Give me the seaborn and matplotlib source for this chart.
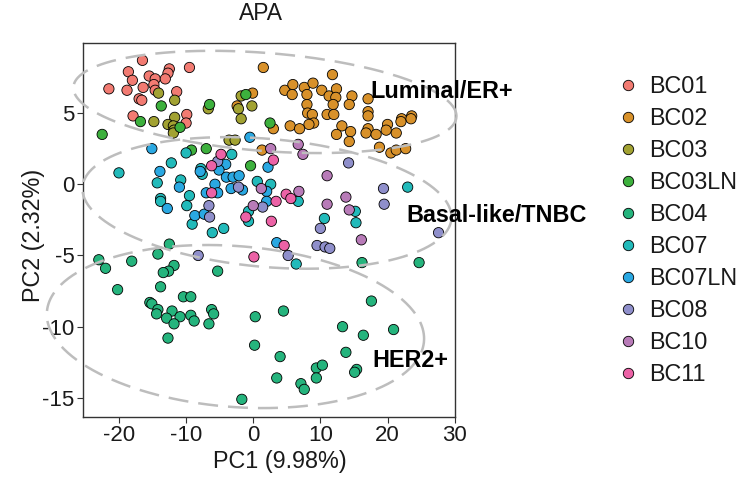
import numpy as np
import pandas as pd
import matplotlib
matplotlib.use("Agg")
import matplotlib.pyplot as plt
from matplotlib.lines import Line2D
import seaborn as sns

# ---------------- data ----------------
groups = ["BC01", "BC02", "BC03", "BC03LN", "BC04", "BC07", "BC07LN", "BC08", "BC10", "BC11"]
colors = ["#F27B72", "#D8912A", "#A2A232", "#3DB03D", "#25B47D",
          "#22BABA", "#2AA8E2", "#8F8FCB", "#B87BB8", "#EC62A6"]

bc01_x = [-16.5, -18.6, -18.0, -21.5, -18.8, -16.4, -15.5, -14.6, -14.8, -14.6,
          -12.5, -12.7, -13.1, -9.5, -11.4, -17.0, -16.6, -17.9, -9.9, -10.0]
bc01_y = [8.7, 7.9, 7.3, 6.7, 6.6, 6.8, 7.6, 7.4, 7.0, 6.6,
          8.1, 7.8, 7.4, 8.2, 6.5, 6.0, 5.9, 4.8, 4.9, 4.3]

bc02_x = [1.5, -0.1, -2.4, 3.0, 1.3, 11.8, 4.7, 5.9, 5.8, 7.6,
          8.9, 8.0, 10.2, 11.3, 12.4, 12.3, 11.9, 8.0, 14.7, 14.3,
          17.1, 17.1, 17.1, 8.1, 8.8, 11.0, 12.0, 9.0, 8.3, 5.5,
          6.9, 13.2, 14.5, 12.4, 14.3, 17.1, 16.8, 18.3, 20.0, 19.8,
          21.3, 22.1, 22.0, 23.6, 23.5, 18.8, 20.5, 21.3, 22.7]
bc02_y = [8.2, 6.4, 5.5, 3.9, 2.4, 7.7, 6.6, 7.0, 6.3, 6.8,
          7.1, 6.3, 6.6, 6.2, 6.7, 6.1, 5.6, 5.6, 6.2, 5.6,
          6.0, 5.1, 4.8, 5.0, 4.9, 4.9, 4.9, 4.3, 4.2, 4.1,
          3.9, 4.1, 3.7, 3.5, 3.0, 3.9, 3.6, 3.5, 4.2, 3.8,
          3.6, 4.6, 4.4, 4.8, 4.6, 2.6, 2.2, 2.4, 2.5]

bc03_x = [-14.1, -11.7, -14.8, -11.7, -12.7, -11.9, -11.8, -11.9, -6.7, -1.8,
          -2.2, -0.2, -1.8, -3.6, -2.7]
bc03_y = [6.4, 5.9, 4.4, 4.7, 4.2, 4.1, 3.8, 3.6, 5.3, 6.2,
          5.3, 5.5, 4.6, 3.1, 3.1]

bc03ln_x = [-13.7, -16.8, -10.9, -22.5, -6.5, -1.1, -9.2, -7.0, 2.5, -0.4]
bc03ln_y = [5.5, 4.4, 4.0, 3.5, 5.6, 6.3, 2.4, 2.5, 4.3, 1.3]

bc04_x = [-12.5, -23.0, -22.0, -18.1, -14.2, -11.8, -12.6, -13.4, -5.3, -20.2,
          -13.8, -15.4, -15.1, -10.4, -9.3, -14.2, -14.4, -12.1, -12.9, -10.9,
          -11.8, -9.3, -8.8, -6.2, -5.9, -6.6, 0.3, 0.2, -12.7, -1.7,
          4.5, 17.6, 13.3, 16.4, 20.9, 13.8, 4.0, 9.4, 10.3, 9.4,
          15.4, 15.1, 3.5, 7.1, 7.6, 16.2, 24.7]
bc04_y = [-4.2, -5.3, -5.9, -5.4, -4.9, -5.7, -6.1, -6.2, -6.1, -7.4,
          -7.2, -8.3, -8.4, -7.9, -7.9, -8.8, -9.1, -8.9, -9.4, -9.3,
          -9.8, -9.2, -9.6, -8.8, -9.1, -9.8, -9.3, -11.3, -10.8, -15.1,
          -8.9, -8.2, -10.0, -10.6, -10.2, -11.8, -12.1, -12.9, -12.7, -13.6,
          -13.0, -13.2, -13.6, -14.0, -14.4, -5.5, -5.5]

bc07_x = [-10.0, -3.2, -12.2, -20.0, -7.8, -7.6, -10.8, -14.3, 0.6, 2.6,
          -9.5, -13.8, -13.8, -9.9, -0.7, -0.7, -9.1, -4.4, -6.1, 6.7,
          23.0, 15.2, 10.6, 15.3, 6.4]
bc07_y = [2.2, 2.1, 1.5, 0.8, 1.1, 0.7, 0.3, 0.1, 0.2, 0.0,
          -0.8, -1.0, -1.2, -1.5, -1.9, -2.6, -2.8, -3.1, -3.4, -1.2,
          -0.2, -1.9, -2.4, -2.7, -5.6]

bc07ln_x = [-0.5, -15.1, -4.1, 2.2, -13.9, -7.9, -5.1, -4.0, -3.0, -2.1,
            -11.0, -5.7, -7.0, -5.3, -3.3, -1.6, 2.0, 2.0, -12.8, -8.7,
            -7.3, 3.5]
bc07ln_y = [3.3, 2.5, 1.4, 1.2, 0.9, 0.9, 1.0, 0.5, 0.5, 0.6,
            -0.2, 0.0, -0.6, -0.6, -0.3, -0.4, -0.5, -1.2, -1.7, -2.2,
            -2.1, -4.1]

bc08_x = [-5.3, -2.2, -6.6, -6.5, 1.4, -8.2, 14.2, 19.4, 19.5, 27.6,
          10.0, 9.5, 10.7, 11.4, 5.2]
bc08_y = [1.6, -0.2, -1.5, -2.3, -1.6, -5.0, 1.5, -0.3, -1.4, -3.4,
          -3.1, -4.3, -4.4, -4.5, -5.0]

bc10_x = [2.6, 6.7, 7.4, 1.2, 0.0, 6.8, 11.0, 11.0, 13.8, 14.3, 16.1]
bc10_y = [2.5, 2.8, 2.1, -0.3, -1.5, -0.5, 0.6, -1.4, -0.9, -1.8, -3.9]

bc11_x = [-4.8, -6.2, 3.0, -6.2, 4.9, 5.6, 3.4, -1.1, 2.7, 4.6, 0.1]
bc11_y = [2.1, 1.3, 1.7, -0.6, -0.7, -1.0, -1.2, -2.3, -2.6, -4.3, -5.1]

# subtype ellipses: centre and two conjugate semi-axis vectors (data units)
ell_names = ["Luminal/ER+", "Basal-like/TNBC", "HER2+"]
ell_cx = [1.74, 2.04, -2.65]
ell_cy = [5.78, -1.31, -9.99]
ell_ax = [28.52, 27.47, 28.08]
ell_ay = [-1.06, -1.13, -1.04]
ell_bx = [0.57, 0.83, 0.94]
ell_by = [3.43, 4.48, 5.63]
# label positions (left, baseline)
lab_x = [17.4, 22.76, 17.69]
lab_y = [6.04, -2.63, -12.81]

xs = [bc01_x, bc02_x, bc03_x, bc03ln_x, bc04_x, bc07_x, bc07ln_x, bc08_x, bc10_x, bc11_x]
ys = [bc01_y, bc02_y, bc03_y, bc03ln_y, bc04_y, bc07_y, bc07ln_y, bc08_y, bc10_y, bc11_y]
df = pd.concat([pd.DataFrame({"PC1": x, "PC2": y, "sample": g})
                for g, x, y in zip(groups, xs, ys)], ignore_index=True)

# ---------------- plot ----------------
sns.set_theme(style="white")
plt.rcParams["font.family"] = ["Liberation Sans", "DejaVu Sans"]
plt.rcParams["axes.unicode_minus"] = False

W, H = 743, 479
fig = plt.figure(figsize=(W / 100, H / 100), dpi=100)
L, R, T, B = 82.7, 455.0, 42.7, 416.7
ax = fig.add_axes([L / W, 1 - B / H, (R - L) / W, (B - T) / H])

sns.scatterplot(data=df, x="PC1", y="PC2", hue="sample", hue_order=groups,
                palette=colors, s=55, edgecolor="black", linewidth=0.6,
                ax=ax, legend=False, zorder=3)

t = np.linspace(0, 2 * np.pi, 400)
for i in range(3):
    ex = ell_cx[i] + ell_ax[i] * np.cos(t) + ell_bx[i] * np.sin(t)
    ey = ell_cy[i] + ell_ay[i] * np.cos(t) + ell_by[i] * np.sin(t)
    ax.plot(ex, ey, color="#BDBDBD", lw=1.8, ls=(0, (8, 4)),
            clip_on=False, zorder=4, solid_capstyle="butt")
    ax.text(lab_x[i], lab_y[i], ell_names[i], fontsize=16.8, fontweight="bold",
            ha="left", va="baseline", clip_on=False, zorder=5, color="black")

ax.set_xlim(-25.4, 30.05)
ax.set_ylim(-16.32, 9.94)
ax.set_xticks([-20, -10, 0, 10, 20, 30])
ax.set_yticks([-15, -10, -5, 0, 5])
ax.tick_params(direction="out", length=4, width=0.8, color="#333333",
               labelsize=16, labelcolor="#1a1a1a", pad=2,
               bottom=True, left=True)
for sp in ax.spines.values():
    sp.set_visible(True)
    sp.set_color("#333333")
    sp.set_linewidth(1.0)

ax.set_xlabel("PC1 (9.98%)", fontsize=16.8, color="#1a1a1a")
ax.xaxis.label.set_va("baseline")
ax.xaxis.set_label_coords((280 - L) / (R - L), (B - 468.3) / (B - T))
ax.set_ylabel("PC2 (2.32%)", fontsize=16.8, color="#1a1a1a")
ax.yaxis.label.set_va("baseline")
ax.yaxis.set_label_coords((40 - L) / (R - L), (B - 235) / (B - T))
ax.set_title("APA", fontsize=16.5, color="#1a1a1a", x=(261 - L) / (R - L),
             y=(B - 28.3) / (B - T), va="baseline")

handles = [Line2D([], [], marker="o", ls="", markerfacecolor=c,
                  markeredgecolor="black", markeredgewidth=0.6, markersize=7.5)
           for c in colors]
leg = ax.legend(handles, groups, loc="center left",
                bbox_to_anchor=(618.8 / W, 1 - 230.9 / H),
                bbox_transform=fig.transFigure, frameon=False,
                fontsize=16.8, handlelength=0.8, handletextpad=0.5,
                labelspacing=0.385, borderpad=0, borderaxespad=0)
for txt in leg.get_texts():
    txt.set_color("#1a1a1a")

fig.savefig("out.png", dpi=100)
